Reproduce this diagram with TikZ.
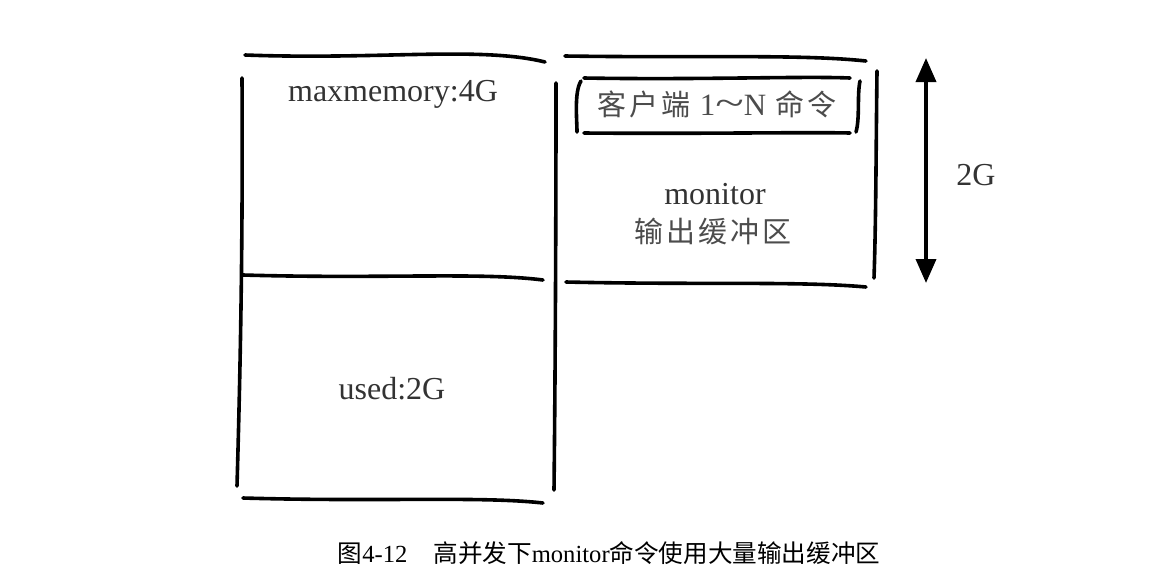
\documentclass[tikz,border=0pt]{standalone}
\usepackage{fontspec}
\setmainfont{Liberation Serif}
\newfontfamily\cjk{Noto Sans CJK SC}
\usetikzlibrary{arrows.meta}
\tikzset{
  sketch/.style={line width=3.6pt, line cap=round},
  txt/.style={font=\fontsize{32}{36}\selectfont, text=black!80, inner sep=0pt},
  hand/.style={font=\cjk\fontsize{29}{33}\selectfont, text=black!70, inner sep=0pt},
}

\begin{document}
\begin{tikzpicture}[x=1pt,y=-1pt]
        \useasboundingbox (0,0) rectangle (1156,582);

        % memory box
        \draw[sketch] (245,55) .. controls (380,60) and (480,46) .. (545,62);
        \draw[sketch] (242,78) .. controls (243,250) and (240,380) .. (237,486);
        \draw[sketch] (556,83) .. controls (556,250) and (555,400) .. (554,490);
        \draw[sketch] (243,275) .. controls (380,279) and (480,272) .. (543,280);
        \draw[sketch] (243,498) .. controls (380,502) and (480,496) .. (543,503);
        \node[txt] (maxmem) at (393,94) {maxmemory:4G};
        \node[txt] (used) at (392,389) {used:2G};

        % output buffer
        \draw[sketch] (565,56) .. controls (700,58) and (800,54) .. (866,61);
        \draw[sketch] (877,71) .. controls (876,150) and (876,220) .. (874,278);
        \draw[sketch] (566,282) .. controls (700,285) and (800,281) .. (866,287);
        \node[txt] (monitor) at (715,194) {monitor};
        \node[hand] (buffer) at (713,231) {输\hspace{3pt}出\hspace{3pt}缓\hspace{3pt}冲\hspace{3pt}区};

        % client commands
        \draw[sketch] (584,78) .. controls (700,80) and (800,76) .. (850,78);
        \draw[sketch] (584,133) .. controls (700,134) and (800,132) .. (850,133);
        \draw[sketch] (581,81) .. controls (574,92) and (577,120) .. (577,132);
        \draw[sketch] (860,81) .. controls (857,95) and (860,118) .. (856,132);
        \node[hand] (clients) at (717,104) {客\hspace{3pt}户\hspace{3pt}端\hspace{9pt}{\fontsize{31}{34}\selectfont\rmfamily 1\scalebox{1.7}[1.2]{\char`~}N}\hspace{9pt}命\hspace{3pt}令};

        % size arrow
        \coordinate (arrtop) at (926,58);
        \coordinate (arrbot) at (926,283);
        \draw[line width=3.6pt, {Triangle[length=24pt,width=20pt]}-{Triangle[length=24pt,width=20pt]}] (arrtop) -- (arrbot);
        \node[txt] (size) at (976,175) {2G};

        % caption
        \node[font=\fontsize{24.6}{28}\selectfont, inner sep=0pt] (caption) at (609,553)
            {{\cjk 图}4-12\hspace{26pt}{\cjk 高并发下}monitor{\cjk 命令使用大量输出缓冲区}};
\end{tikzpicture}
\end{document}
